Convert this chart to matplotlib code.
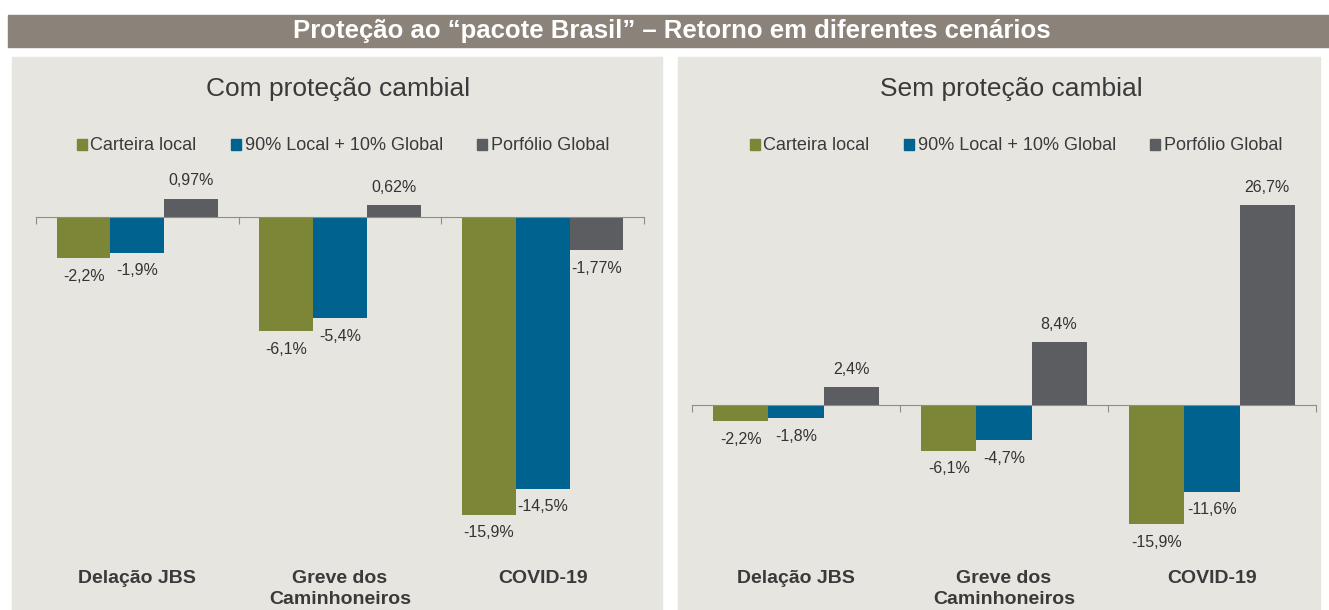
import matplotlib.pyplot as plt
from matplotlib.patches import Rectangle, Patch

plt.rcParams['font.family'] = ['Liberation Sans', 'DejaVu Sans']

categorias = ['Delação JBS', 'Greve dos\nCaminhoneiros', 'COVID-19']
series = ['Carteira local', '90% Local + 10% Global', 'Porfólio Global']
cores = ['#7d8536', '#00628f', '#5b5d60']

# com proteção cambial
com_valores = [[-2.2, -6.1, -15.9], [-1.9, -5.4, -14.5], [0.97, 0.62, -1.77]]
com_rotulos = [['-2,2%', '-6,1%', '-15,9%'], ['-1,9%', '-5,4%', '-14,5%'], ['0,97%', '0,62%', '-1,77%']]

# sem proteção cambial
sem_valores = [[-2.2, -6.1, -15.9], [-1.8, -4.7, -11.6], [2.4, 8.4, 26.7]]
sem_rotulos = [['-2,2%', '-6,1%', '-15,9%'], ['-1,8%', '-4,7%', '-11,6%'], ['2,4%', '8,4%', '26,7%']]

W, H = 1329, 610
fig = plt.figure(figsize=(W / 100, H / 100), dpi=100)
fig.patch.set_facecolor('white')


def px(x0, y0, x1, y1):
    # retangulo em pixels (topo para baixo) -> coordenadas da figura
    return [x0 / W, 1 - y1 / H, (x1 - x0) / W, (y1 - y0) / H]


# faixa do titulo
l, b, w, h = px(8, 15, 1329, 47)
fig.patches.append(Rectangle((l, b), w, h, transform=fig.transFigure, color='#8b8279', zorder=-2))
fig.text(672 / W, 1 - 31 / H, 'Proteção ao “pacote Brasil” – Retorno em diferentes cenários',
         color='white', fontsize=18.5, fontweight='bold', ha='center', va='center')

# fundos dos paineis
for x0, x1 in [(12, 662), (678, 1320)]:
    l, b, w, h = px(x0, 57, x1, 610)
    fig.patches.append(Rectangle((l, b), w, h, transform=fig.transFigure, color='#e6e5e0', zorder=-2))


def painel(rect, titulo, valores, rotulos, ylim, tx, lx):
    ax = fig.add_axes(px(*rect))
    ax.set_facecolor('none')
    x = range(len(categorias))
    largura = 0.265
    offset = 18 / 100 * 72  # pontos
    for i in range(len(series)):
        pos = [k + (i - 1) * largura for k in x]
        barras = ax.bar(pos, valores[i], width=largura, color=cores[i], label=series[i], zorder=2)
        for barra, v, r in zip(barras, valores[i], rotulos[i]):
            dy = offset if v >= 0 else -offset
            ax.annotate(r, (barra.get_x() + barra.get_width() / 2, v), xytext=(0, dy),
                        textcoords='offset points', ha='center', va='center',
                        fontsize=11.5, color='#333333')
    ax.set_xlim(-0.5, 2.5)
    ax.set_ylim(*ylim)
    for s in ['top', 'right', 'left']:
        ax.spines[s].set_visible(False)
    ax.spines['bottom'].set_position(('data', 0))
    ax.spines['bottom'].set_color('#8c8c8c')
    ax.set_xticks([-0.5, 0.5, 1.5, 2.5])
    ax.set_xticklabels([])
    ax.tick_params(axis='x', length=5, color='#8c8c8c', direction='out')
    ax.set_yticks([])
    for k, c in enumerate(categorias):
        xf = (rect[0] + (k + 0.5) * (rect[2] - rect[0]) / 3) / W
        fig.text(xf, 1 - 570 / H, c, ha='center', va='top', fontsize=14, fontweight='bold',
                 color='#3a3a3a', linespacing=1.3)
    fig.text(tx / W, 1 - 89 / H, titulo, ha='center', va='center', fontsize=19, color='#3a3a3a')
    handles = [Patch(color=c) for c in cores]
    fig.legend(handles, series, loc='center', bbox_to_anchor=(lx / W, 1 - 146 / H), ncol=3,
               frameon=False, fontsize=13, handlelength=0.55, handleheight=0.55,
               handletextpad=0.2, columnspacing=1.9, labelcolor='#3a3a3a')
    return ax


ax1 = painel((36, 170, 644, 560), 'Com proteção cambial', com_valores, com_rotulos,
             (-(560 - 217) / 18.74, (217 - 170) / 18.74), 338, 343)
ax2 = painel((692, 170, 1316, 560), 'Sem proteção cambial', sem_valores, sem_rotulos,
             (-(560 - 405) / 7.49, (405 - 170) / 7.49), 1011, 1016)

fig.savefig('out.png', dpi=100)
